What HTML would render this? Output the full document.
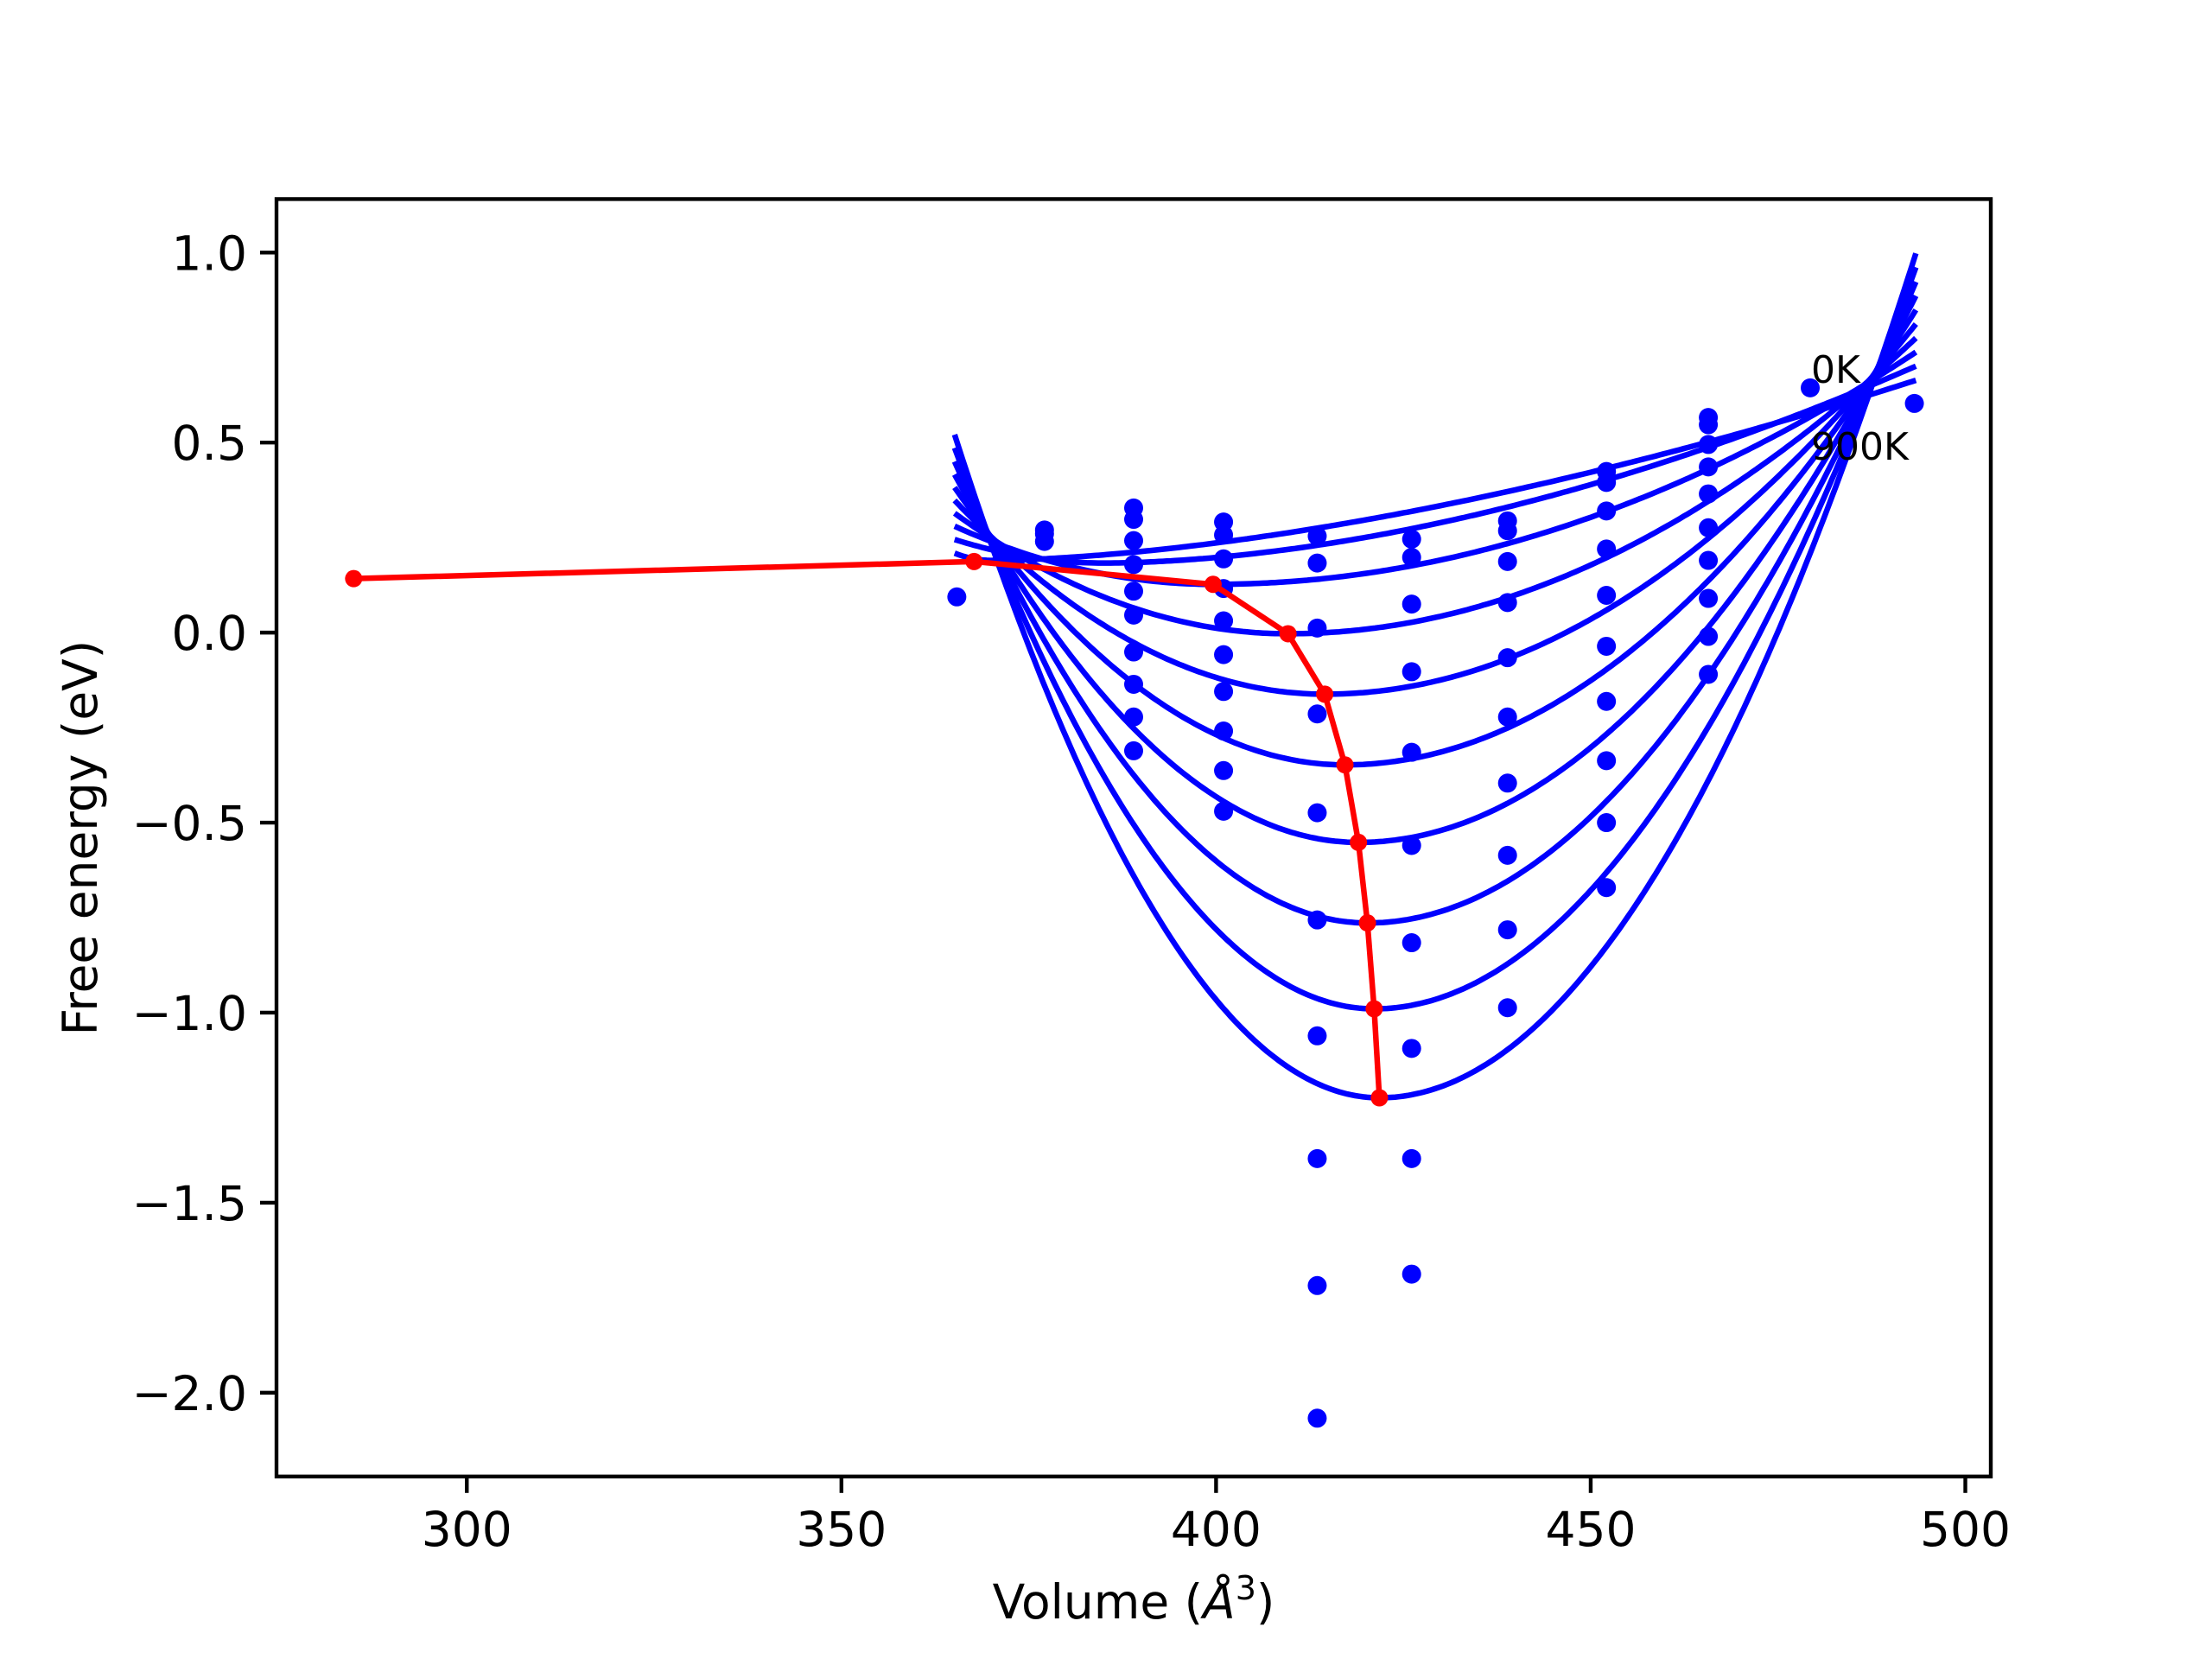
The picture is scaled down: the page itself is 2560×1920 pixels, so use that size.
<!DOCTYPE html>
<html><head><meta charset="utf-8"><style>
html,body{margin:0;padding:0;background:#fff}
svg{display:block;font-family:"DejaVu Sans","Liberation Sans",sans-serif}
</style></head><body>
<svg id="chart" width="2560" height="1920" viewBox="0 0 2560 1920" xmlns="http://www.w3.org/2000/svg">
<rect width="2560" height="1920" fill="#fff"/>
<g id="plot"></g>
</svg>
<script>
const xTicks = [300, 350, 400, 450, 500];
const yTicks = [-2.0, -1.5, -1.0, -0.5, 0.0, 0.5, 1.0];
const yTickLabels = ["\u22122.0", "\u22121.5", "\u22121.0", "\u22120.5", "0.0", "0.5", "1.0"];
// dot columns (volumes) and energies per column
const dotVolumes = [365.4, 377.1, 389.0, 401.0, 413.5, 426.1, 438.9, 452.1, 465.7, 479.3, 493.2];
const dotEnergies = [
  [0.094],
  [0.27, 0.26, 0.24],
  [0.328, 0.298, 0.242, 0.179, 0.109, 0.046, -0.051, -0.136, -0.222, -0.311],
  [0.291, 0.257, 0.194, 0.116, 0.031, -0.058, -0.155, -0.259, -0.363, -0.470],
  [0.254, 0.183, 0.012, -0.214, -0.474, -0.756, -1.061, -1.384, -1.718, -2.067],
  [0.246, 0.198, 0.075, -0.103, -0.315, -0.560, -0.816, -1.094, -1.384, -1.688],
  [0.294, 0.268, 0.187, 0.079, -0.066, -0.222, -0.396, -0.586, -0.782, -0.987],
  [0.424, 0.395, 0.320, 0.220, 0.098, -0.036, -0.181, -0.337, -0.500, -0.671],
  [0.566, 0.547, 0.495, 0.436, 0.365, 0.276, 0.190, 0.090, -0.010, -0.110],
  [0.644],
  [0.603]
];
// fitted curves: one per temperature (0K..900K)
const curveVmin = [370.0, 385.0, 399.6, 409.6, 414.5, 417.2, 419.0, 420.2, 421.1, 421.8];
const curveEmin = [0.190, 0.183, 0.127, -0.003, -0.162, -0.348, -0.552, -0.764, -0.990, -1.224];
const curveEleft = [0.209, 0.245, 0.280, 0.314, 0.348, 0.382, 0.416, 0.450, 0.486, 0.521];
const curveEright = [0.664, 0.701, 0.738, 0.775, 0.812, 0.849, 0.886, 0.923, 0.961, 0.998];
const curveExpRight = [1.65, 1.8, 2, 2, 2, 2, 2, 2, 2, 2];
const curveVstart = 365.1, curveVend = 493.4;
// red minima path
const minVolumes = [284.9, 367.7, 399.6, 409.6, 414.5, 417.2, 419.0, 420.2, 421.1, 421.8];
const minEnergies = [0.142, 0.187, 0.127, -0.003, -0.162, -0.348, -0.552, -0.764, -0.990, -1.224];

const L=320,R=2304,T=230.4,B=1708.8;
const xmin=274.6,xmax=503.4,ymin=-2.2205,ymax=1.1407;
const sx=v=>L+(v-xmin)/(xmax-xmin)*(R-L);
const sy=e=>B-(e-ymin)/(ymax-ymin)*(B-T);
const NS="http://www.w3.org/2000/svg";
const g=document.getElementById('plot');
function mk(tag,attrs,parent){const e=document.createElementNS(NS,tag);for(const k in attrs)e.setAttribute(k,attrs[k]);(parent||g).appendChild(e);return e;}

const clip=mk('clipPath',{id:'clipAx'});mk('rect',{x:L,y:T,width:R-L,height:B-T},clip);
const data=mk('g',{'clip-path':'url(#clipAx)'});



for(let i=0;i<curveVmin.length;i++){
  const vm=curveVmin[i],em=curveEmin[i],p=curveExpRight[i];
  const aL=vm>curveVstart?(curveEleft[i]-em)/Math.pow(vm-curveVstart,2):0;
  const span=curveVend-vm, dR=curveEright[i]-em;
  let d='';
  for(let k=0;k<=240;k++){
    const v=curveVstart+(curveVend-curveVstart)*k/240;
    const e=v<vm? em+aL*(v-vm)*(v-vm) : em+dR*Math.pow((v-vm)/span,p);
    d+=(k?'L':'M')+sx(v).toFixed(1)+','+sy(e).toFixed(1);
  }
  const path=mk('path',{d:d,fill:'none',stroke:'#0000ff','stroke-width':6.5},data);
  
  
}
dotVolumes.forEach((v,i)=>{dotEnergies[i].forEach(e=>{
  const c=mk('circle',{cx:sx(v),cy:sy(e),r:11,fill:'#0000ff'},data);
  
  
});});
let rd='';minVolumes.forEach((v,i)=>{rd+=(i?'L':'M')+sx(v)+','+sy(minEnergies[i]);});
const rl=mk('path',{d:rd,fill:'none',stroke:'#ff0000','stroke-width':6.5,'stroke-linejoin':'round'},data);


minVolumes.forEach((v,i)=>{
  const c=mk('circle',{cx:sx(v),cy:sy(minEnergies[i]),r:10,fill:'#ff0000'},data);
  
  
});

const t0=mk('text',{x:2096,y:443,'font-size':44,fill:'#000'});t0.textContent='0K';


const t9=mk('text',{x:2096,y:532,'font-size':44,fill:'#000'});t9.textContent='900K';



const fr=mk('rect',{x:L,y:T,width:R-L,height:B-T,fill:'none',stroke:'#000','stroke-width':4.4});


xTicks.forEach(v=>{
  const l=mk('line',{x1:sx(v),x2:sx(v),y1:B,y2:B+19,stroke:'#000','stroke-width':4.4});
  
  
  const t=mk('text',{x:sx(v),y:B+80,'font-size':55,'text-anchor':'middle',fill:'#000'});t.textContent=v;
  
  
});
yTicks.forEach((e,i)=>{
  const l=mk('line',{x1:L-19,x2:L,y1:sy(e),y2:sy(e),stroke:'#000','stroke-width':4.4});
  
  
  const t=mk('text',{x:L-34,y:sy(e)+20,'font-size':55,'text-anchor':'end',fill:'#000'});t.textContent=yTickLabels[i];
  
  
});
const xt=mk('text',{x:(L+R)/2,y:1873,'font-size':55,'text-anchor':'middle',fill:'#000'});
xt.innerHTML='Volume (<tspan font-style="italic">Å</tspan><tspan font-size="38" dy="-22">3</tspan><tspan dy="22">)</tspan>';


const yt=mk('text',{x:0,y:0,'font-size':55,'text-anchor':'middle',fill:'#000',transform:'translate(112,'+((T+B)/2)+') rotate(-90)'});
yt.textContent='Free energy (eV)';


</script>
</body></html>
